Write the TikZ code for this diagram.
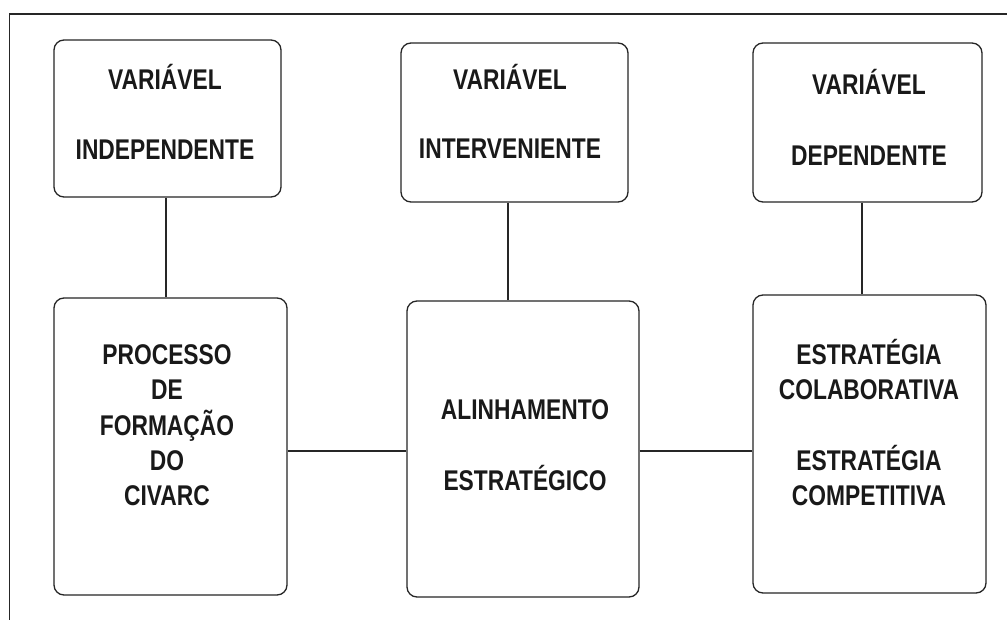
\documentclass[tikz,border=0pt]{standalone}
\usepackage{fontspec}
\newfontfamily\boxfont{Liberation Sans Bold}[FakeStretch=0.8]
\begin{document}
\begin{tikzpicture}[x=1pt,y=-1pt,
  line width=1.3pt,
  box/.style={draw=black!85, rounded corners=10pt, inner sep=0pt},
  txt/.style={anchor=base, inner sep=0pt, text=black!90,
    font=\boxfont\fontsize{28.5}{35}\selectfont},
  link/.style={draw=black!85, line width=1.3pt}]
\useasboundingbox (0,0) rectangle (1007,620);
\fill[white] (0,0) rectangle (1007,620);
% outer frame
\coordinate (fr1) at (1010,14);
\coordinate (fr2) at (9.5,14);
\coordinate (fr3) at (9.5,625);
\draw[black!85, line width=1.5pt] (fr1) -- (fr2) -- (fr3);
% boxes
\node[box, minimum width=227pt, minimum height=157pt] (A1) at (167.5,118.5) {};
\node[box, minimum width=227pt, minimum height=159pt] (A2) at (514.5,122.5) {};
\node[box, minimum width=229pt, minimum height=159pt] (A3) at (867.5,122.5) {};
\node[box, minimum width=233pt, minimum height=297pt] (B1) at (170.5,446.5) {};
\node[box, minimum width=232pt, minimum height=296pt] (B2) at (523,449) {};
\node[box, minimum width=233pt, minimum height=298pt] (B3) at (869.5,444) {};
% texts
\node[txt] (tA1) at (165,89.5) {\begin{tabular}[t]{@{}c@{}}VARIÁVEL\\[35pt]INDEPENDENTE\end{tabular}};
\node[txt] (tA2) at (510,89.5) {\begin{tabular}[t]{@{}c@{}}VARIÁVEL\\[34pt]INTERVENIENTE\end{tabular}};
\node[txt] (tA3) at (869,94.3) {\begin{tabular}[t]{@{}c@{}}VARIÁVEL\\[36pt]DEPENDENTE\end{tabular}};
\node[txt] (tB1) at (167,365) {\begin{tabular}[t]{@{}c@{}}PROCESSO\\DE\\FORMAÇÃO\\DO\\CIVARC\end{tabular}};
\node[txt] (tB2) at (525,419.3) {\begin{tabular}[t]{@{}c@{}}ALINHAMENTO\\[35.7pt]ESTRATÉGICO\end{tabular}};
\node[txt] (tB3) at (869,365) {\begin{tabular}[t]{@{}c@{}}ESTRATÉGIA\\COLABORATIVA\\[34.3pt]ESTRATÉGIA\\COMPETITIVA\end{tabular}};
% connectors
\draw[link] ([xshift=-1.5pt]A1.south) -- ([xshift=-1.5pt]A1.south |- B1.north);
\draw[link] ([xshift=-6.5pt]A2.south) -- ([xshift=-6.5pt]A2.south |- B2.north);
\draw[link] ([xshift=-5.5pt]A3.south) -- ([xshift=-5.5pt]A3.south |- B3.north);
\draw[link] ([yshift=-4.5pt]B1.east) -- ([yshift=-4.5pt]B1.east -| B2.west);
\draw[link] ([yshift=-2pt]B2.east) -- ([yshift=-2pt]B2.east -| B3.west);
\end{tikzpicture}
\end{document}
